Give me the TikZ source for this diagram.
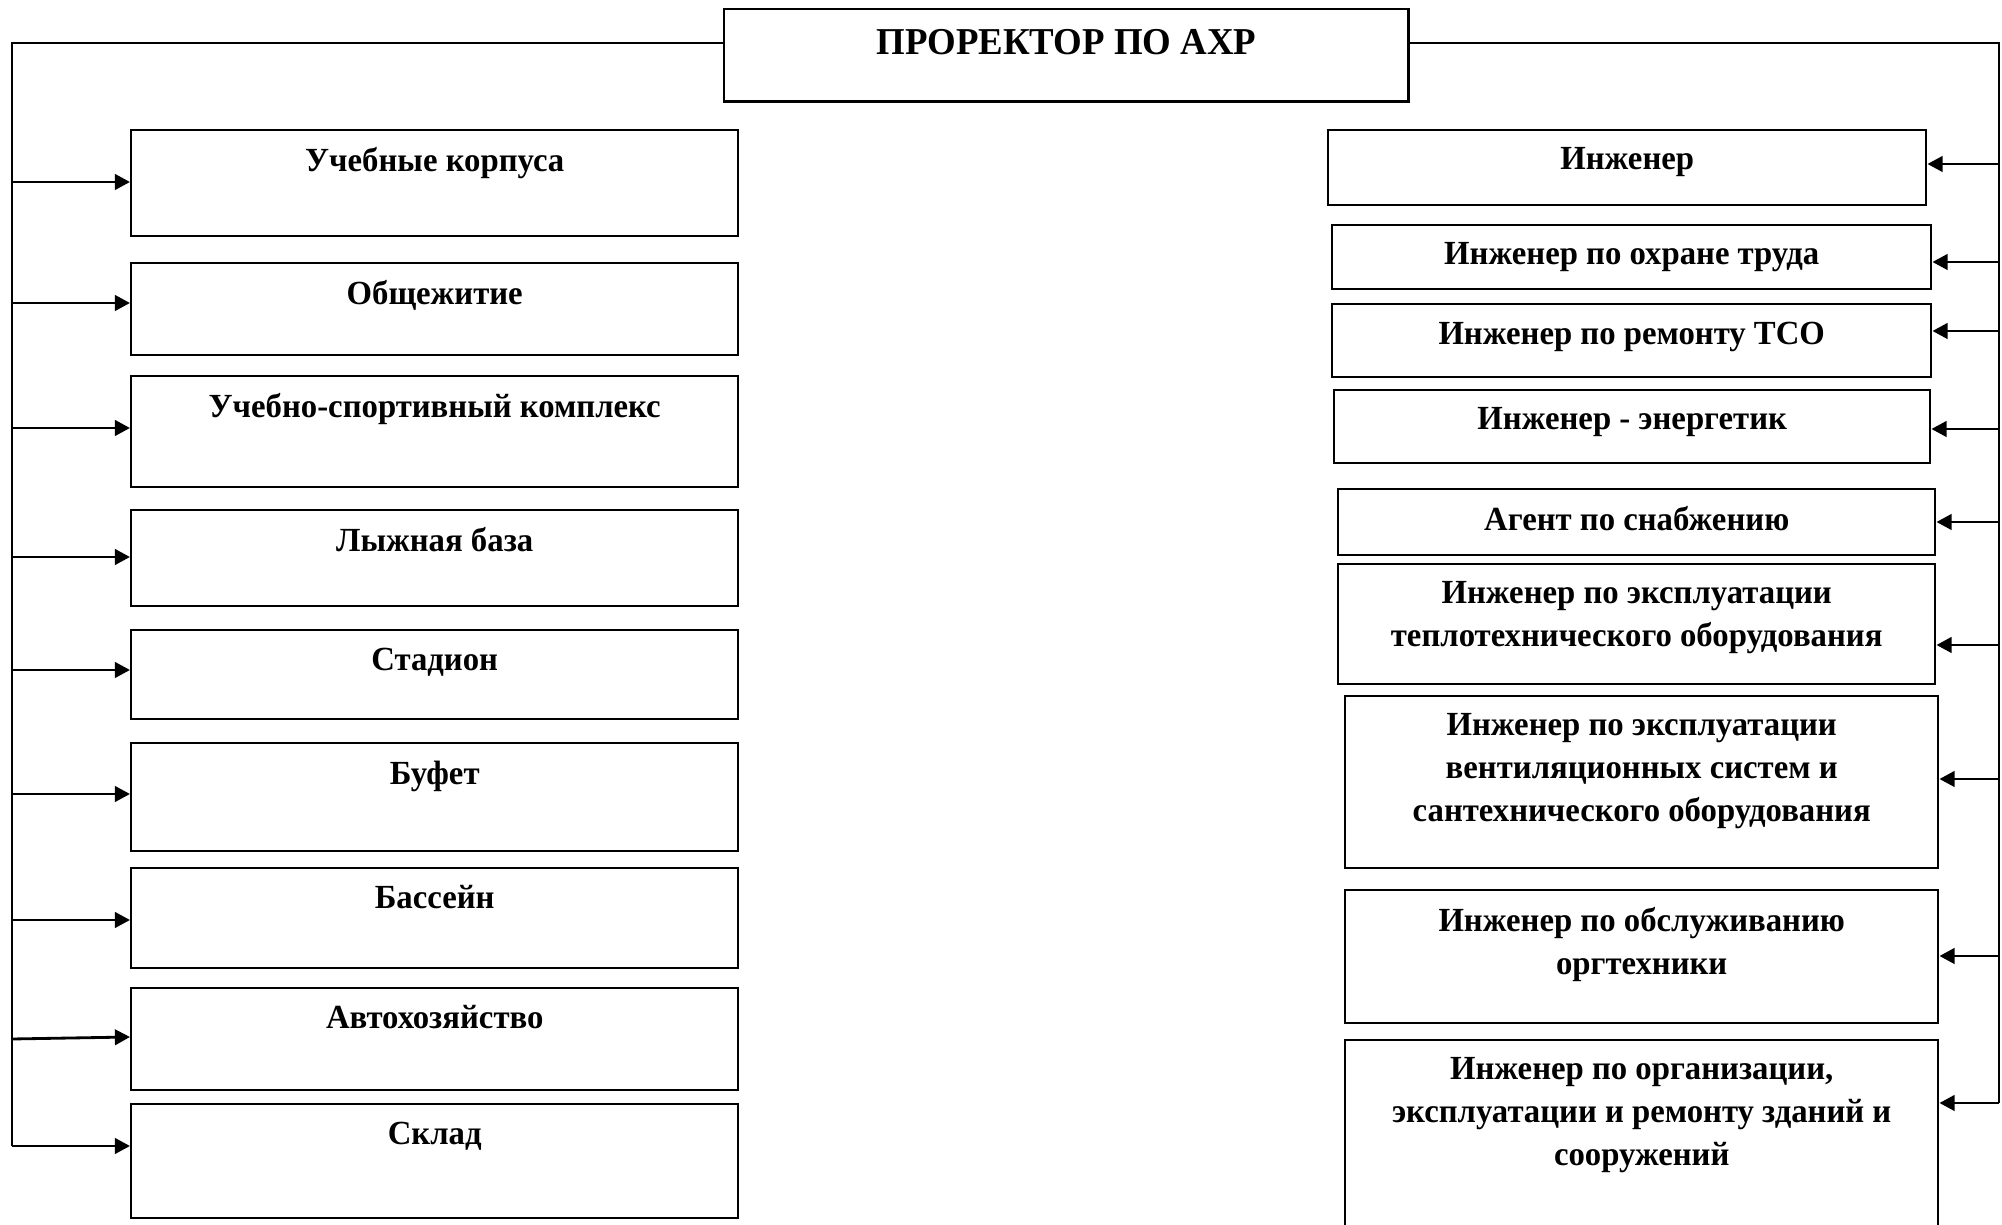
\documentclass[tikz,border=0pt]{standalone}
\usepackage{fontspec}
\setmainfont{Liberation Serif}[FakeStretch=0.97]
\usetikzlibrary{arrows.meta}
\tikzset{
  box/.style={draw, line width=0.7pt, inner sep=0pt, anchor=north west},
  txt/.style={font=\bfseries\fontsize{9.6}{12.2}\selectfont, align=center, inner sep=0pt, anchor=north},
  ttl/.style={font=\bfseries\fontsize{10.8}{12.6}\selectfont, align=center, inner sep=0pt, anchor=north},
  conn/.style={line width=0.6pt},
  arr/.style={line width=0.8pt, -{Triangle[length=4.3pt,width=4.4pt]}},
}
\newcommand\mkbox[6]{%
  \node[box, minimum width=#4*0.01cm-#2*0.01cm, minimum height=#5*0.01cm-#3*0.01cm] (#1) at (#2,#3) {};
  \node[txt] (#1t) at ([yshift=-0.18cm]#1.north) {#6};
}
\begin{document}
\begin{tikzpicture}[x=0.01cm,y=-0.01cm]
\path[use as bounding box, clip] (0,0) rectangle (2002,1225);
% top box
\node[box, minimum width=6.84cm, minimum height=0.92cm] (top) at (723,8) {};
\node[ttl] (topt) at ([yshift=-0.205cm]top.north) {ПРОРЕКТОР ПО АХР};
% left boxes
\mkbox{l1}{130}{129}{737}{235}{Учебные корпуса}
\mkbox{l2}{130}{262}{737}{354}{Общежитие}
\mkbox{l3}{130}{375}{737}{486}{Учебно-спортивный комплекс}
\mkbox{l4}{130}{509}{737}{605}{Лыжная база}
\mkbox{l5}{130}{629}{737}{718}{Стадион}
\mkbox{l6}{130}{742}{737}{850}{Буфет}
\mkbox{l7}{130}{867}{737}{967}{Бассейн}
\mkbox{l8}{130}{987}{737}{1089}{Автохозяйство}
\mkbox{l9}{130}{1103}{737}{1217}{Склад}
% right boxes
\mkbox{r1}{1327}{129}{1925}{204}{Инженер}
\mkbox{r2}{1331}{224}{1930}{288}{Инженер по охране труда}
\mkbox{r3}{1331}{303}{1930}{376}{Инженер по ремонту ТСО}
\mkbox{r4}{1333}{389}{1929}{462}{Инженер - энергетик}
\mkbox{r5}{1337}{488}{1934}{554}{Агент по снабжению}
\mkbox{r6}{1337}{563}{1934}{683}{Инженер по эксплуатации\\теплотехнического оборудования}
\mkbox{r7}{1344}{695}{1937}{867}{Инженер по эксплуатации\\вентиляционных систем и\\сантехнического оборудования}
\mkbox{r8}{1344}{889}{1937}{1022}{Инженер по обслуживанию\\оргтехники}
\mkbox{r9}{1344}{1039}{1937}{1240}{Инженер по организации,\\эксплуатации и ремонту зданий и\\сооружений}
% left bus
\coordinate (lc) at (12,43);
\coordinate (lb) at (12,1146);
\draw[conn] (top.west |- lc) -- (lc) -- (lb);
\foreach \n/\y in {l1/182,l2/303,l3/428,l4/557,l5/670,l6/794,l7/920,l9/1146}{
  \coordinate (\n tap) at (12,\y);
  \draw[arr] (\n tap) -- (\n tap -| \n.west);
}
\coordinate (l8tap) at (12,1039);
\coordinate (l8end) at (130,1037);
\draw[arr] (l8tap) -- (l8end);
% right bus
\coordinate (rc) at (1999,43);
\coordinate (rb) at (1999,1103);
\draw[conn] (top.east |- rc) -- (rc) -- (rb);
\foreach \n/\y in {r1/164,r2/262,r3/331,r4/429,r5/522,r6/645,r7/779,r8/956,r9/1103}{
  \coordinate (\n tap) at (1999,\y);
  \draw[arr] (\n tap) -- (\n tap -| \n.east);
}
\end{tikzpicture}
\end{document}
